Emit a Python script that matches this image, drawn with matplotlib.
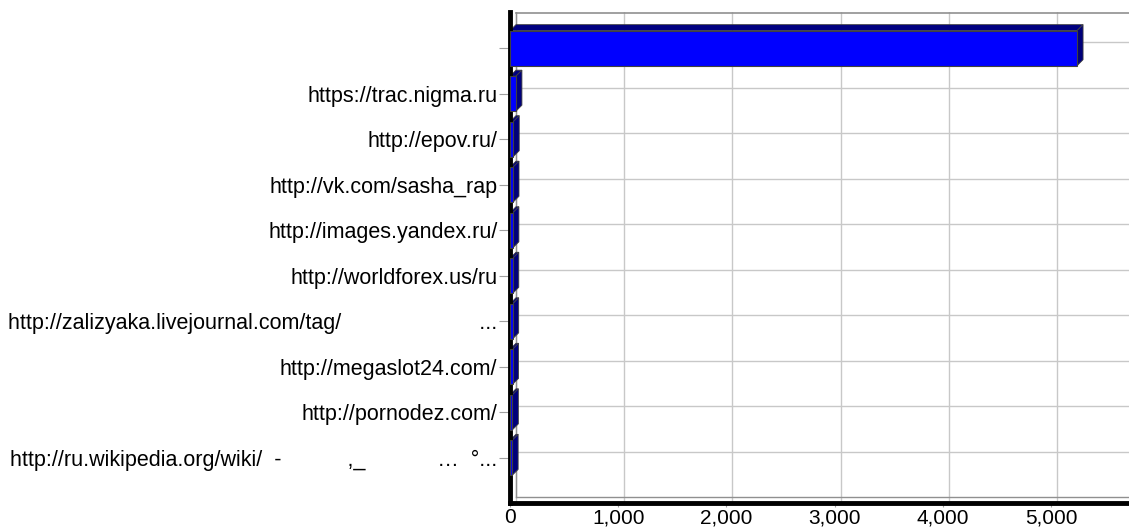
import numpy as np
import matplotlib.pyplot as plt
from matplotlib.patches import Polygon

plt.rcParams['font.family'] = ['Liberation Sans', 'DejaVu Sans']

# referrer labels (cyrillic parts were lost in the source, so blanks remain)
labels = [
    "",
    "https://trac.nigma.ru",
    "http://epov.ru/",
    "http://vk.com/sasha_rap",
    "http://images.yandex.ru/",
    "http://worldforex.us/ru",
    "http://zalizyaka.livejournal.com/tag/" + " " * 23 + "...",
    "http://megaslot24.com/",
    "http://pornodez.com/",
    "http://ru.wikipedia.org/wiki/  -" + " " * 11 + ",_" + " " * 12 + "\u2026  \u00b0...",
]
visits = [5240, 55, 30, 28, 27, 26, 25, 24, 22, 20]
xticks = [0, 1000, 2000, 3000, 4000, 5000]

fig = plt.figure(figsize=(11.29, 5.31), dpi=100)
ax = fig.add_axes([0.4517, 0.052, 0.5483, 0.925])

xmax = 5720
ytop = -0.79
ybot = len(labels) - 1 + 1.0
ax.set_xlim(0, xmax)
ax.set_ylim(ybot, ytop)

# depth of the fake 3d effect in data units (~6 px)
dx = 6 / (ax.bbox.width / xmax)
dy = 6 / (ax.bbox.height / (ybot - ytop))

# gridlines on the back wall
for t in xticks + [6000]:
    ax.plot([t + dx, t + dx], [ybot, ytop], color='#c8c8c8', lw=1, zorder=0)
for i in range(len(labels)):
    ax.plot([dx, xmax], [i - dy, i - dy], color='#c8c8c8', lw=1, zorder=0)
# back wall edges
ax.plot([dx, dx], [ybot - dy, ytop], color='#909090', lw=1, zorder=1)
ax.plot([dx, xmax], [ybot - dy, ybot - dy], color='#909090', lw=1, zorder=1)
ax.plot([dx, xmax], [ytop + 0.02, ytop + 0.02], color='#909090', lw=1.2, zorder=1)

h = 0.77
y = np.arange(len(labels))
ax.barh(y, visits, height=h, color='#0000ff', edgecolor='#404040', lw=0.8, zorder=3)
for yi, v in zip(y, visits):
    top = Polygon([(0, yi - h / 2), (v, yi - h / 2), (v + dx, yi - h / 2 - dy), (dx, yi - h / 2 - dy)],
                  closed=True, facecolor='#000080', edgecolor='#404040', lw=0.6, zorder=2)
    side = Polygon([(v, yi - h / 2), (v + dx, yi - h / 2 - dy), (v + dx, yi + h / 2 - dy), (v, yi + h / 2)],
                   closed=True, facecolor='#00007a', edgecolor='#404040', lw=0.6, zorder=2)
    ax.add_patch(top)
    ax.add_patch(side)

ax.set_yticks(y)
ax.set_yticklabels(labels, fontsize=15.5)
ax.set_xticks(xticks)
ax.set_xticklabels([f"{t:,}" for t in xticks], fontsize=15)
ax.tick_params(axis='y', length=8, color='#a0a0a0', pad=1)
ax.tick_params(axis='x', length=3, color='#a0a0a0', pad=0.5)

for s in ['top', 'right']:
    ax.spines[s].set_visible(False)
ax.spines['left'].set_linewidth(3.5)
ax.spines['bottom'].set_linewidth(3.5)

fig.savefig('out.png', dpi=100)
